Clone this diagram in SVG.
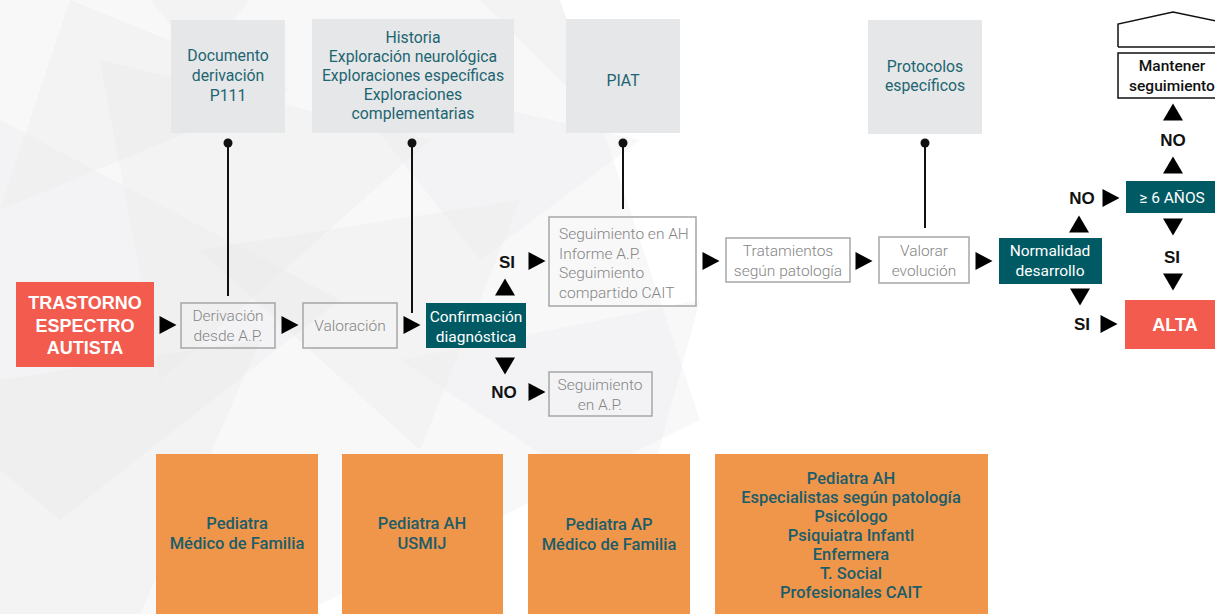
<svg xmlns="http://www.w3.org/2000/svg" width="1215" height="614" viewBox="0 0 1215 614">
<style>
.topbox{fill:#e6e7e8}
.toptxt{font-family:Roboto,"Liberation Sans",sans-serif;font-size:15.8px;fill:#1d6571;text-anchor:middle}
.gbox{fill:none;stroke:#a6a6a6;stroke-width:1.5}
.gtxt{font-family:Roboto,"Liberation Sans",sans-serif;font-weight:300;font-size:15.5px;fill:#858585;text-anchor:middle}
.teal{fill:#005a63}
.wtxt{font-family:Roboto,"Liberation Sans",sans-serif;font-size:15.5px;fill:#ffffff;text-anchor:middle}
.red{fill:#f25b4e}
.rtxt{font-family:"Liberation Sans",Arial,sans-serif;font-weight:bold;font-size:18px;fill:#ffffff;text-anchor:middle}
.org{fill:#f0964b}
.otxt{font-family:Roboto,"Liberation Sans",sans-serif;font-weight:500;font-size:16.5px;fill:#1b5d69;text-anchor:middle}
.lbl{font-family:"Liberation Sans",Arial,sans-serif;font-weight:bold;font-size:17px;fill:#111111;text-anchor:middle}
.pin{stroke:#111111;stroke-width:2;fill:none}
.dot{fill:#111111}
.tri{fill:#000000}
.bg1{fill:#ececed;opacity:0.35}
.bg2{fill:#e2e3e4;opacity:0.25}
</style>
<defs>
<path id="ar" d="M-8.5,-9 L8.5,0 L-8.5,9 Z"/>
<path id="au" d="M-10,8.5 L0,-8.5 L10,8.5 Z"/>
<path id="ad" d="M-10,-8.5 L0,8.5 L10,-8.5 Z"/>
</defs>
<rect width="1215" height="614" fill="#ffffff"/>
<g id="background">
<polygon class="bg1" points="0,0 560,0 700,420 300,614 0,614"/>
<polygon class="bg2" points="70,0 290,90 0,210"/>
<polygon class="bg2" points="100,60 430,140 160,380"/>
<polygon class="bg1" points="0,120 340,300 60,520 0,470"/>
<polygon class="bg2" points="200,250 520,200 420,450"/>
<polygon class="bg1" points="330,70 640,140 480,260"/>
<polygon class="bg2" points="0,380 260,340 140,614 0,614"/>
<polygon class="bg1" points="400,360 700,300 640,520"/>
<polygon class="bg2" points="150,0 250,0 200,60"/>
<polygon class="bg2" points="480,0 560,0 600,120"/>
</g>
<g id="top-documento">
<rect class="topbox" x="171" y="20" width="114" height="113"/>
<text class="toptxt" x="228" y="61">Documento</text>
<text class="toptxt" x="228" y="81">derivación</text>
<text class="toptxt" x="228" y="101">P111</text>
</g>
<g id="top-historia">
<rect class="topbox" x="312" y="19" width="202" height="114"/>
<text class="toptxt" x="413" y="43">Historia</text>
<text class="toptxt" x="413" y="62">Exploración neurológica</text>
<text class="toptxt" x="413" y="81">Exploraciones específicas</text>
<text class="toptxt" x="413" y="100">Exploraciones</text>
<text class="toptxt" x="413" y="119">complementarias</text>
</g>
<g id="top-piat">
<rect class="topbox" x="566" y="19" width="114" height="114"/>
<text class="toptxt" x="623" y="86">PIAT</text>
</g>
<g id="top-protocolos">
<rect class="topbox" x="868" y="20" width="114" height="114"/>
<text class="toptxt" x="925" y="72">Protocolos</text>
<text class="toptxt" x="925" y="91">específicos</text>
</g>
<g id="tea">
<rect class="red" x="16" y="282" width="138" height="85"/>
<text class="rtxt" x="85" y="309">TRASTORNO</text>
<text class="rtxt" x="85" y="332">ESPECTRO</text>
<text class="rtxt" x="85" y="354">AUTISTA</text>
</g>
<g id="derivacion">
<rect class="gbox" x="181" y="303" width="94" height="45"/>
<text class="gtxt" x="228" y="321">Derivación</text>
<text class="gtxt" x="228" y="341">desde A.P.</text>
</g>
<g id="valoracion">
<rect class="gbox" x="303" y="303" width="94" height="45"/>
<text class="gtxt" x="350" y="331">Valoración</text>
</g>
<g id="confirmacion">
<rect class="teal" x="426" y="303" width="100" height="45"/>
<text class="wtxt" x="476" y="322">Confirmación</text>
<text class="wtxt" x="476" y="342">diagnóstica</text>
</g>
<g id="seguimiento-ah">
<rect class="gbox" x="549" y="217" width="147" height="89"/>
<text class="gtxt" x="559" y="239" style="text-anchor:start">Seguimiento en AH</text>
<text class="gtxt" x="559" y="259" style="text-anchor:start">Informe A.P.</text>
<text class="gtxt" x="559" y="278" style="text-anchor:start">Seguimiento</text>
<text class="gtxt" x="559" y="298" style="text-anchor:start">compartido CAIT</text>
</g>
<g id="seguimiento-ap">
<rect class="gbox" x="549" y="372" width="103" height="44"/>
<text class="gtxt" x="600" y="390">Seguimiento</text>
<text class="gtxt" x="600" y="410">en A.P.</text>
</g>
<g id="tratamientos">
<rect class="gbox" x="726" y="238" width="124" height="44"/>
<text class="gtxt" x="788" y="256">Tratamientos</text>
<text class="gtxt" x="788" y="276">según patología</text>
</g>
<g id="valorar">
<rect class="gbox" x="879" y="237" width="90" height="46"/>
<text class="gtxt" x="924" y="256">Valorar</text>
<text class="gtxt" x="924" y="276">evolución</text>
</g>
<g id="normalidad">
<rect class="teal" x="999" y="238" width="103" height="46"/>
<text class="wtxt" x="1050" y="256">Normalidad</text>
<text class="wtxt" x="1050" y="276">desarrollo</text>
</g>
<g id="seis-anos">
<rect class="teal" x="1126" y="181" width="89" height="32"/>
<text class="wtxt" x="1172" y="203">≥ 6 AÑOS</text>
</g>
<g id="alta">
<rect class="red" x="1125" y="300" width="90" height="49"/>
<text class="rtxt" x="1175" y="331">ALTA</text>
</g>
<g id="mantener">
<path d="M1118,47 L1118,24 L1173,12 L1216,21" fill="#ffffff" stroke="#111111" stroke-width="1.5"/>
<line x1="1118" y1="47" x2="1216" y2="47" stroke="#111111" stroke-width="1.5"/>
<rect x="1118" y="53" width="100" height="45" fill="#ffffff" stroke="#111111" stroke-width="1.5"/>
<text x="1172" y="71" style="font-family:Roboto,'Liberation Sans',sans-serif;font-weight:500;font-size:15.5px;fill:#111111;text-anchor:middle">Mantener</text>
<text x="1172" y="91" style="font-family:Roboto,'Liberation Sans',sans-serif;font-weight:500;font-size:15.5px;fill:#111111;text-anchor:middle">seguimiento</text>
</g>
<g id="prof-1">
<rect class="org" x="156" y="454" width="162" height="160"/>
<text class="otxt" x="237" y="529">Pediatra</text>
<text class="otxt" x="237" y="549">Médico de Familia</text>
</g>
<g id="prof-2">
<rect class="org" x="342" y="454" width="161" height="160"/>
<text class="otxt" x="422" y="529">Pediatra AH</text>
<text class="otxt" x="422" y="549">USMIJ</text>
</g>
<g id="prof-3">
<rect class="org" x="528" y="454" width="162" height="160"/>
<text class="otxt" x="609" y="530">Pediatra AP</text>
<text class="otxt" x="609" y="550">Médico de Familia</text>
</g>
<g id="prof-4">
<rect class="org" x="715" y="454" width="273" height="160"/>
<text class="otxt" x="851" y="484">Pediatra AH</text>
<text class="otxt" x="851" y="503">Especialistas según patología</text>
<text class="otxt" x="851" y="522">Psicólogo</text>
<text class="otxt" x="851" y="541">Psiquiatra Infantl</text>
<text class="otxt" x="851" y="560">Enfermera</text>
<text class="otxt" x="851" y="579">T. Social</text>
<text class="otxt" x="851" y="598">Profesionales CAIT</text>
</g>
<g id="connectors">
<line class="pin" x1="228" y1="143" x2="228" y2="296"/>
<circle class="dot" cx="228" cy="143" r="4.5"/>
<line class="pin" x1="412" y1="143" x2="412" y2="313"/>
<circle class="dot" cx="412" cy="143" r="4.5"/>
<line class="pin" x1="623" y1="143" x2="623" y2="209"/>
<circle class="dot" cx="623" cy="143" r="4.5"/>
<line class="pin" x1="925" y1="143" x2="925" y2="228"/>
<circle class="dot" cx="925" cy="143" r="4.5"/>
<use href="#ar" class="tri" x="168" y="325"/>
<use href="#ar" class="tri" x="290" y="325"/>
<use href="#ar" class="tri" x="412" y="325"/>
<use href="#au" class="tri" x="505" y="287"/>
<use href="#ad" class="tri" x="505" y="366"/>
<use href="#ar" class="tri" x="537" y="261"/>
<use href="#ar" class="tri" x="537" y="392"/>
<use href="#ar" class="tri" x="711" y="261"/>
<use href="#ar" class="tri" x="864" y="261"/>
<use href="#ar" class="tri" x="984" y="261"/>
<use href="#au" class="tri" x="1079" y="224"/>
<use href="#ad" class="tri" x="1080" y="297"/>
<use href="#ar" class="tri" x="1111" y="198"/>
<use href="#ar" class="tri" x="1109" y="324"/>
<use href="#au" class="tri" x="1173" y="165"/>
<use href="#au" class="tri" x="1173" y="112"/>
<use href="#ad" class="tri" x="1173" y="227"/>
<use href="#ad" class="tri" x="1173" y="282"/>
<text class="lbl" x="507" y="268">SI</text>
<text class="lbl" x="504" y="398">NO</text>
<text class="lbl" x="1082" y="204">NO</text>
<text class="lbl" x="1082" y="330">SI</text>
<text class="lbl" x="1173" y="146">NO</text>
<text class="lbl" x="1172" y="263">SI</text>
</g>
</svg>
